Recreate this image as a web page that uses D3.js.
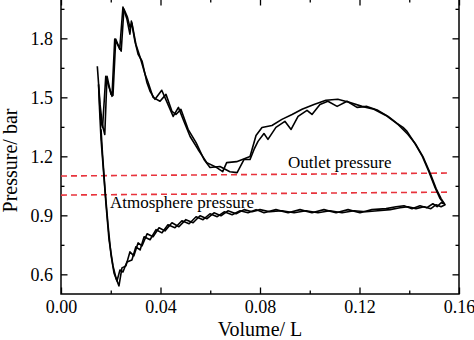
<!DOCTYPE html>
<html>
<head>
<meta charset="utf-8">
<script src="https://cdn.jsdelivr.net/npm/d3@7"></script>
<style>
  html, body { margin: 0; padding: 0; background: #fff; }
  svg { display: block; }
  text { font-family: "Liberation Serif", "Times New Roman", serif; fill: #000; }
</style>
</head>
<body>
<svg id="chart" width="474" height="340"></svg>
<script>
// Cycle 1: volume (L) and pressure (bar)
const cycle1Volume = [0.0146,0.0157,0.0166,0.0176,0.0185,0.0201,0.0209,0.0220,0.0236,0.0249,0.0265,0.0277,0.0283,0.0297,0.0310,0.0326,0.0345,0.0358,0.0378,0.0405,0.0430,0.0451,0.0472,0.0494,0.0519,0.0551,0.0586,0.0626,0.0650,0.0666,0.0706,0.0760,0.0784,0.0808,0.0848,0.0888,0.0929,0.0969,0.1017,0.1065,0.1113,0.1162,0.1210,0.1258,0.1306,0.1355,0.1395,0.1427,0.1455,0.1483,0.1508,0.1528,0.1544,
  0.1528,0.1508,0.1487,0.1459,0.1427,0.1395,0.1363,0.1323,0.1274,0.1226,0.1178,0.1130,0.1081,0.1033,0.0985,0.0937,0.0888,0.0840,0.0800,0.0768,0.0736,0.0704,0.0671,0.0643,0.0615,0.0587,0.0559,0.0531,0.0502,0.0474,0.0446,0.0418,0.0394,0.0370,0.0346,0.0326,0.0310,0.0293,0.0277,0.0261,0.0245,0.0233,0.0221,0.0209,0.0193,0.0181,0.0171,0.0161,0.0155,0.0151];
const cycle1Pressure = [1.658,1.464,1.362,1.311,1.607,1.515,1.510,1.796,1.745,1.959,1.898,1.821,1.888,1.786,1.719,1.684,1.577,1.531,1.490,1.536,1.464,1.403,1.449,1.378,1.301,1.235,1.168,1.143,1.122,1.168,1.173,1.199,1.306,1.347,1.357,1.388,1.413,1.439,1.464,1.485,1.490,1.474,1.454,1.439,1.408,1.362,1.311,1.260,1.199,1.117,1.036,0.985,0.954,
  0.944,0.954,0.934,0.944,0.934,0.944,0.939,0.929,0.923,0.918,0.923,0.913,0.923,0.913,0.923,0.913,0.923,0.918,0.929,0.918,0.929,0.908,0.923,0.898,0.913,0.883,0.898,0.862,0.878,0.842,0.862,0.821,0.837,0.791,0.806,0.745,0.760,0.694,0.714,0.643,0.633,0.541,0.582,0.643,0.776,0.954,1.122,1.286,1.439,1.566];

// Cycle 2: volume (L) and pressure (bar)
const cycle2Volume = [0.0151,0.0159,0.0167,0.0180,0.0193,0.0205,0.0216,0.0242,0.0253,0.0267,0.0277,0.0285,0.0301,0.0318,0.0338,0.0350,0.0370,0.0398,0.0422,0.0446,0.0462,0.0482,0.0511,0.0543,0.0575,0.0599,0.0639,0.0679,0.0708,0.0736,0.0760,0.0776,0.0792,0.0816,0.0832,0.0864,0.0900,0.0925,0.0953,0.0989,0.1009,0.1041,0.1073,0.1110,0.1150,0.1190,0.1230,0.1274,0.1315,0.1351,0.1375,0.1391,0.1423,0.1451,0.1479,0.1504,0.1524,0.1540,
  0.1528,0.1512,0.1495,0.1471,0.1443,0.1411,0.1379,0.1347,0.1307,0.1250,0.1202,0.1154,0.1106,0.1057,0.1009,0.0961,0.0913,0.0864,0.0816,0.0784,0.0752,0.0720,0.0688,0.0656,0.0628,0.0599,0.0571,0.0543,0.0515,0.0486,0.0458,0.0430,0.0406,0.0382,0.0358,0.0334,0.0318,0.0301,0.0285,0.0265,0.0249,0.0237,0.0225,0.0213,0.0201,0.0189,0.0177,0.0167,0.0161];
const cycle2Pressure = [1.566,1.388,1.347,1.607,1.551,1.505,1.796,1.735,1.949,1.908,1.857,1.878,1.770,1.704,1.617,1.577,1.500,1.480,1.515,1.429,1.413,1.439,1.337,1.270,1.184,1.143,1.148,1.122,1.117,1.184,1.184,1.235,1.276,1.316,1.286,1.347,1.378,1.337,1.403,1.434,1.413,1.464,1.480,1.454,1.480,1.449,1.454,1.434,1.403,1.367,1.347,1.327,1.265,1.204,1.122,1.041,0.985,0.959,
  0.964,0.944,0.959,0.939,0.949,0.934,0.949,0.944,0.934,0.929,0.913,0.929,0.913,0.929,0.913,0.929,0.913,0.929,0.913,0.929,0.913,0.923,0.903,0.918,0.893,0.908,0.878,0.893,0.857,0.872,0.837,0.852,0.811,0.827,0.776,0.791,0.724,0.740,0.673,0.663,0.612,0.622,0.566,0.607,0.699,0.852,1.031,1.209,1.337];

// Reference pressure lines: [start volume, end volume], [start pressure, end pressure]
const refLineNames = ["Outlet pressure", "Atmosphere pressure"];
const refLineVolume = [[0, 0.1556], [0, 0.1556]];
const refLinePressure = [[1.100, 1.115], [1.003, 1.018]];
const refLabelVolume = [0.0913, 0.0197];
const refLabelPressure = [1.14, 0.937];

// Axis ticks
const xTicks = [0, 0.04, 0.08, 0.12, 0.16];
const xMinorTicks = [0.02, 0.06, 0.10, 0.14];
const yTicks = [0.6, 0.9, 1.2, 1.5, 1.8];
const yMinorTicks = [0.75, 1.05, 1.35, 1.65, 1.95];

const xTitle = "Volume/ L";
const yTitle = "Pressure/ bar";

const serif = "Liberation Serif, Times New Roman, serif";
const svg = d3.select("#chart");
const plotLeft = 61, plotRight = 459, plotTop = -1, plotBottom = 294;

const x = d3.scaleLinear().domain([0, 0.16]).range([plotLeft, plotRight]);
const y = d3.scaleLinear().domain([0.5, 2.0]).range([plotBottom, plotTop]);

// Frame
svg.append("rect")
  .attr("x", plotLeft).attr("y", plotTop)
  .attr("width", plotRight - plotLeft).attr("height", plotBottom - plotTop)
  .attr("fill", "none").attr("stroke", "#000").attr("stroke-width", 1.5);

// Inward ticks on all four sides
const majorLen = 6.5, minorLen = 3.5;
function tickAxis(axisFn, scale, values, len, labels, fmt, transform) {
  const a = axisFn(scale).tickValues(values).tickSizeInner(-len).tickSizeOuter(0);
  a.tickFormat(labels ? d3.format(fmt) : "");
  const g = svg.append("g").attr("transform", transform).call(a)
    .attr("font-family", serif).attr("font-size", 18);
  g.select(".domain").remove();
  g.selectAll(".tick line").attr("stroke", "#000").attr("stroke-width", 1.3);
  g.selectAll(".tick text").attr("fill", "#000")
    .style("font-family", serif).style("font-size", "18px");
  return g;
}
const gxB = tickAxis(d3.axisBottom, x, xTicks, majorLen, true, ".2f", `translate(0,${plotBottom})`);
tickAxis(d3.axisBottom, x, xMinorTicks, minorLen, false, "", `translate(0,${plotBottom})`);
tickAxis(d3.axisTop, x, xTicks, majorLen, false, "", `translate(0,${plotTop})`);
tickAxis(d3.axisTop, x, xMinorTicks, minorLen, false, "", `translate(0,${plotTop})`);
const gyL = tickAxis(d3.axisLeft, y, yTicks, majorLen, true, ".1f", `translate(${plotLeft},0)`);
tickAxis(d3.axisLeft, y, yMinorTicks, minorLen, false, "", `translate(${plotLeft},0)`);
tickAxis(d3.axisRight, y, yTicks, majorLen, false, "", `translate(${plotRight},0)`);
tickAxis(d3.axisRight, y, yMinorTicks, minorLen, false, "", `translate(${plotRight},0)`);

gxB.selectAll(".tick text").attr("y", 6).attr("dy", "0.71em");
gyL.selectAll(".tick text").attr("x", -8).attr("dy", "0.34em");

// Axis titles
svg.append("text")
  .attr("x", (plotLeft + plotRight) / 2).attr("y", 336)
  .attr("text-anchor", "middle").style("font-size", "20px")
  .text(xTitle);
svg.append("text")
  .attr("transform", `translate(17,${(plotTop + plotBottom) / 2 + 14}) rotate(-90)`)
  .attr("text-anchor", "middle").style("font-size", "20px")
  .text(yTitle);

// Reference pressure lines (dashed red)
refLineNames.forEach((name, i) => {
  svg.append("line")
    .attr("x1", x(refLineVolume[i][0])).attr("x2", x(refLineVolume[i][1]))
    .attr("y1", y(refLinePressure[i][0])).attr("y2", y(refLinePressure[i][1]))
    .attr("stroke", "#e8333c").attr("stroke-width", 1.6)
    .attr("stroke-dasharray", "6,4");
  svg.append("text")
    .attr("x", x(refLabelVolume[i])).attr("y", y(refLabelPressure[i]))
    .style("font-size", "17px")
    .text(name);
});

// P-V cycles
const line = d3.line().x(d => x(d[0])).y(d => y(d[1]));
[[cycle1Volume, cycle1Pressure], [cycle2Volume, cycle2Pressure]].forEach(([vs, ps]) => {
  svg.append("path")
    .datum(vs.map((v, i) => [v, ps[i]]))
    .attr("d", line)
    .attr("fill", "none").attr("stroke", "#000")
    .attr("stroke-width", 1.6).attr("stroke-linejoin", "round");
});
</script>
</body>
</html>
